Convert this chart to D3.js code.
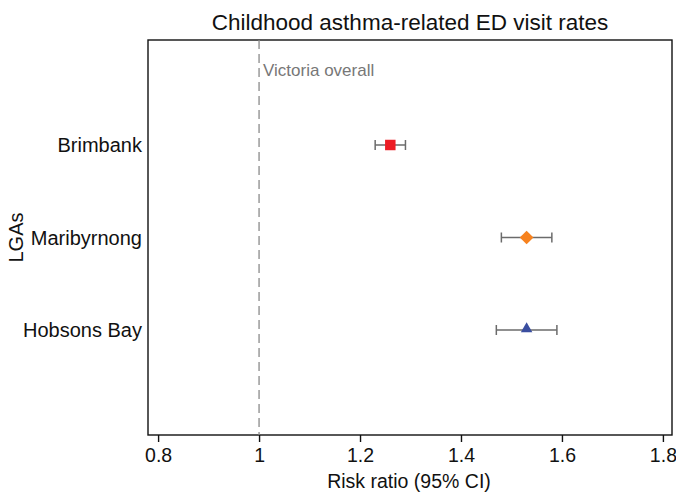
<!DOCTYPE html>
<html>
<head>
<meta charset="utf-8">
<script src="https://cdn.jsdelivr.net/npm/d3@7/dist/d3.min.js"></script>
<style>
  html, body { margin: 0; padding: 0; background: #fff; }
  svg { display: block; font-family: "Liberation Sans", Arial, sans-serif; }
</style>
</head>
<body>
<svg id="chart" width="676" height="493"></svg>
<script>
// Local government areas and their risk ratios with 95% CIs
const lgas = ["Brimbank", "Maribyrnong", "Hobsons Bay"];
const ratios = [1.26, 1.53, 1.53];
const lower = [1.23, 1.48, 1.47];
const upper = [1.29, 1.58, 1.59];
const markerShapes = ["square", "diamond", "triangle"];
const markerColors = ["#ed1c24", "#f7821e", "#3a4ea0"];
const xTicks = [0.8, 1.0, 1.2, 1.4, 1.6, 1.8];
const referenceValue = 1.0;

const svg = d3.select("#chart");
const margin = { left: 148, right: 4, top: 40, bottom: 58 };
const W = 676, H = 493;
const innerW = W - margin.left - margin.right;
const innerH = H - margin.top - margin.bottom;

const x = d3.scaleLinear().domain([0.78, 1.818]).range([margin.left, margin.left + innerW]);
const y = d3.scalePoint().domain(lgas).range([margin.top, margin.top + innerH]).padding(1.135);

// Title
svg.append("text")
  .attr("x", 410).attr("y", 30)
  .attr("text-anchor", "middle")
  .attr("font-size", 22.5)
  .attr("fill", "#111")
  .text("Childhood asthma-related ED visit rates");

// Plot frame
svg.append("rect")
  .attr("x", margin.left).attr("y", margin.top)
  .attr("width", innerW).attr("height", innerH)
  .attr("fill", "none").attr("stroke", "#111").attr("stroke-width", 1.4);

// Reference line
svg.append("line")
  .attr("x1", x(referenceValue)).attr("x2", x(referenceValue))
  .attr("y1", margin.top).attr("y2", margin.top + innerH)
  .attr("stroke", "#8a8a8a").attr("stroke-width", 1.3)
  .attr("stroke-dasharray", "9,5");

svg.append("text")
  .attr("x", x(referenceValue) + 4).attr("y", 76)
  .attr("font-size", 17).attr("fill", "#777")
  .text("Victoria overall");

// X axis
const xAxis = d3.axisBottom(x).tickValues(xTicks).tickSize(7).tickPadding(6)
  .tickFormat(d => d === 1 ? "1" : d3.format(".1f")(d));
const gx = svg.append("g")
  .attr("transform", `translate(0,${margin.top + innerH})`)
  .call(xAxis);
gx.select(".domain").remove();
gx.selectAll(".tick line").attr("stroke", "#111").attr("stroke-width", 1.4);
gx.selectAll(".tick text").attr("font-size", 19.5).attr("fill", "#111").attr("font-family", "inherit");

svg.append("text")
  .attr("x", 409).attr("y", 488)
  .attr("text-anchor", "middle")
  .attr("font-size", 19.5).attr("fill", "#111")
  .text("Risk ratio (95% CI)");

// Y category labels
svg.append("g").selectAll("text").data(lgas).join("text")
  .attr("x", margin.left - 6)
  .attr("y", d => y(d))
  .attr("dy", "0.35em")
  .attr("text-anchor", "end")
  .attr("font-size", 20).attr("fill", "#111")
  .text(d => d);

svg.append("text")
  .attr("transform", `translate(23,${y("Maribyrnong")}) rotate(-90)`)
  .attr("text-anchor", "middle")
  .attr("font-size", 20).attr("fill", "#111")
  .text("LGAs");

// Confidence intervals
const rows = lgas.map((name, i) => ({
  name, ratio: ratios[i], lo: lower[i], hi: upper[i],
  shape: markerShapes[i], color: markerColors[i]
}));

const ci = svg.append("g").selectAll("g").data(rows).join("g")
  .attr("stroke", "#6b6b6b").attr("stroke-width", 1.5);
ci.append("line")
  .attr("x1", d => x(d.lo)).attr("x2", d => x(d.hi))
  .attr("y1", d => y(d.name)).attr("y2", d => y(d.name));
ci.append("line")
  .attr("x1", d => x(d.lo)).attr("x2", d => x(d.lo))
  .attr("y1", d => y(d.name) - 5).attr("y2", d => y(d.name) + 5);
ci.append("line")
  .attr("x1", d => x(d.hi)).attr("x2", d => x(d.hi))
  .attr("y1", d => y(d.name) - 5).attr("y2", d => y(d.name) + 5);

// Point estimates
const symbolType = { square: d3.symbolSquare, diamond: d3.symbolDiamond2, triangle: d3.symbolTriangle2 };
const symbolSize = { square: 110, diamond: 120, triangle: 95 };
svg.append("g").selectAll("path").data(rows).join("path")
  .attr("transform", d => `translate(${x(d.ratio)},${y(d.name) + (d.shape === "triangle" ? -1 : 0)})`)
  .attr("d", d => d3.symbol().type(symbolType[d.shape]).size(symbolSize[d.shape])())
  .attr("fill", d => d.color);
</script>
</body>
</html>
